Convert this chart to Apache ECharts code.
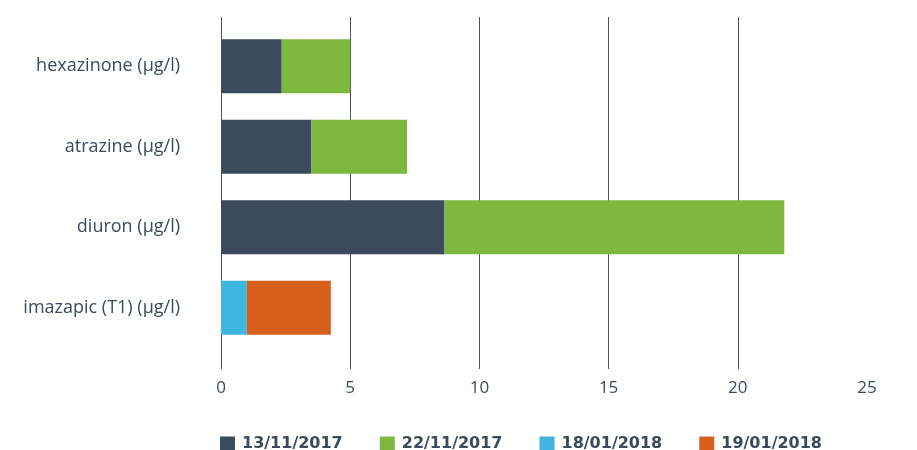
<!DOCTYPE html>
<html><head><meta charset="utf-8">
<script src="https://cdn.jsdelivr.net/npm/echarts@6/dist/echarts.min.js"></script>
<style>html,body{margin:0;padding:0;background:#fff}#c{width:917px;height:450px}</style>
</head><body><div id="c"></div>
<script>
var categories = ['hexazinone (µg/l)', 'atrazine (µg/l)', 'diuron (µg/l)', 'imazapic (T1) (µg/l)'];
var seriesNames = ['13/11/2017', '22/11/2017', '18/01/2018', '19/01/2018'];
var s1 = [2.35, 3.5, 8.65, null];
var s2 = [2.65, 3.7, 13.15, null];
var s3 = [null, null, null, 1.0];
var s4 = [null, null, null, 3.25];
var xTicks = [0, 5, 10, 15, 20, 25];

var colors = ['#3b4a5c', '#7cb83e', '#3fb6e0', '#d6601b'];
var textColor = '#3b4a5c';
var font = '"Open Sans", "Noto Sans", sans-serif';
var chart = echarts.init(document.getElementById('c'));
var dataSets = [s1, s2, s3, s4];
var series = seriesNames.map(function (n, i) {
  return {
    name: n, type: 'bar', stack: 'all', xAxisIndex: 1, yAxisIndex: 1,
    barWidth: 54, itemStyle: { color: colors[i] },
    data: dataSets[i].map(function (v) { return v == null ? '-' : v; })
  };
});
chart.setOption({
  animation: false,
  color: colors,
  textStyle: { fontFamily: font },
  legend: {
    left: 215, top: 431, itemWidth: 15, itemHeight: 15, itemGap: 37, icon: 'rect',
    textStyle: { color: textColor, fontSize: 16, fontWeight: 'bold', fontFamily: '"DejaVu Sans", sans-serif', padding: [0, 0, 0, 2] },
    data: seriesNames
  },
  grid: [
    { left: 221, right: 50, top: 17, bottom: 81 },
    { left: 221, right: 50, top: 26, bottom: 102 }
  ],
  xAxis: [
    { gridIndex: 0, type: 'value', min: xTicks[0], max: xTicks[xTicks.length - 1], interval: 5,
      axisLine: { show: false }, axisTick: { show: false },
      axisLabel: { color: textColor, fontSize: 17, margin: 11, fontFamily: font },
      splitLine: { show: true, showMaxLine: false, lineStyle: { color: '#4a5667', width: 1 } } },
    { gridIndex: 1, type: 'value', min: xTicks[0], max: xTicks[xTicks.length - 1], interval: 5,
      show: false }
  ],
  yAxis: [
    { gridIndex: 0, type: 'category', data: categories, show: false },
    { gridIndex: 1, type: 'category', data: categories, inverse: true,
      axisLine: { show: false }, axisTick: { show: false },
      axisLabel: { color: textColor, fontSize: 18, margin: 41, fontFamily: font },
      splitLine: { show: false } }
  ],
  series: series
});
</script></body></html>
